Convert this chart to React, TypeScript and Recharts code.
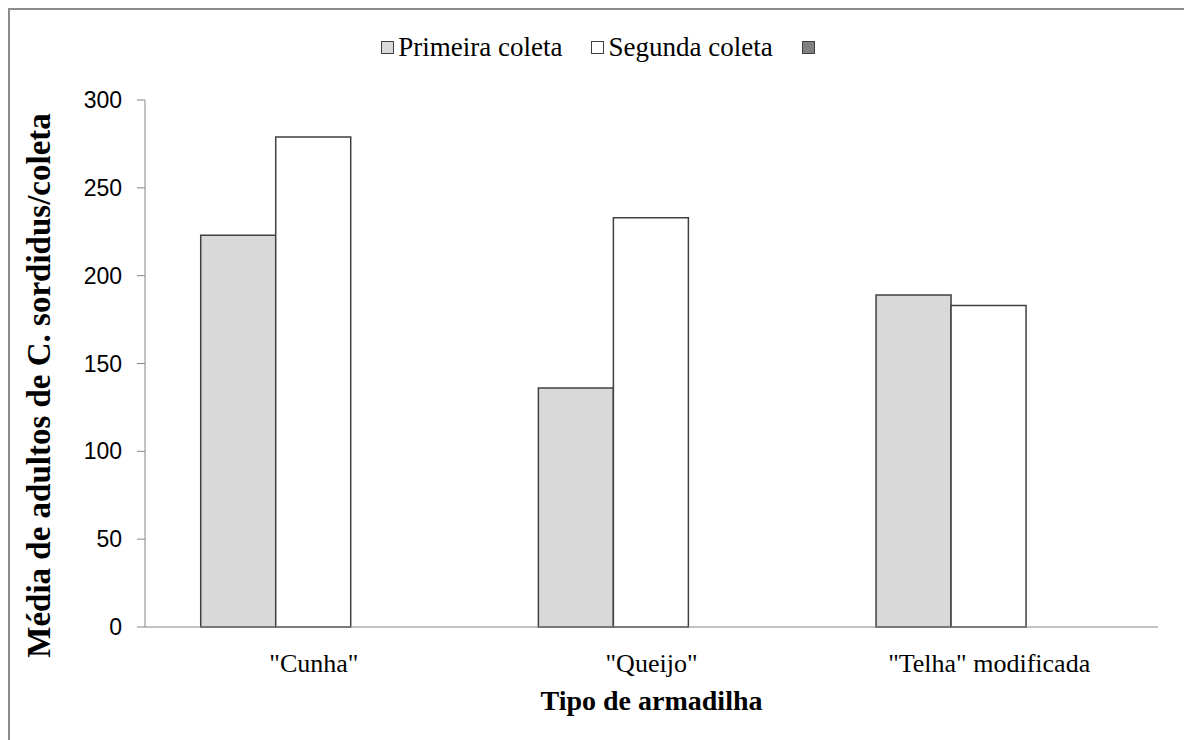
import { BarChart, Bar, XAxis, YAxis, Legend } from 'recharts';

const categories = ['"Cunha"', '"Queijo"', '"Telha" modificada'];
const primeira = [223, 136, 189];
const segunda = [279, 233, 183];
const terceira: (number | null)[] = [null, null, null];
const yTicks = [0, 50, 100, 150, 200, 250, 300];
const edgeTicks = [0, 1, 2, 3];

const SERIES = [
  { key: 'primeira', name: 'Primeira coleta', fill: '#d9d9d9' },
  { key: 'segunda', name: 'Segunda coleta', fill: '#ffffff' },
  { key: 'terceira', name: '', fill: '#808080' },
];

const data = categories.map((c, i) => ({
  cat: c,
  primeira: primeira[i],
  segunda: segunda[i],
  terceira: terceira[i],
}));

const SERIF = '"Liberation Serif", "Times New Roman", serif';
const SANS = '"Liberation Sans", Arial, sans-serif';
const AXIS = '#868686';
const EDGE = '#404040';

function LegendBox() {
  return (
    <div style={{ height: 30, display: 'flex', justifyContent: 'center', alignItems: 'center', fontFamily: SERIF, fontSize: 27, color: '#000', paddingLeft: 6 }}>
      {SERIES.map((s, i) => (
        <div key={s.key} style={{ display: 'flex', alignItems: 'center', marginLeft: i === 0 ? 0 : 29 }}>
          <span style={{ width: 11, height: 11, background: s.fill, border: `1px solid ${EDGE}`, marginRight: 4, display: 'inline-block' }} />
          {s.name && <span>{s.name}</span>}
        </div>
      ))}
    </div>
  );
}

export default function App() {
  return (
    <div style={{ position: 'fixed', left: 8, top: 8, width: 1176, height: 732, overflow: 'hidden', boxSizing: 'border-box', borderLeft: '2px solid #8c8c8c', borderTop: '2px solid #8c8c8c', background: '#fff' }}>
      <BarChart
        width={1174}
        height={730}
        data={data}
        margin={{ top: 60, right: 26, left: 0, bottom: 73 }}
        barCategoryGap="16.5%"
        barGap={0}
      >
        <Legend verticalAlign="top" content={() => <LegendBox />} wrapperStyle={{ top: 22, left: 0, width: 1174 }} />
        <XAxis
          xAxisId="edges"
          type="number"
          domain={[0, 3]}
          allowDataOverflow
          ticks={edgeTicks}
          tick={false}
          axisLine={false}
          tickLine={{ stroke: AXIS }}
          tickSize={8}
          height={0}
        />
        <XAxis
          dataKey="cat"
          height={40}
          tickLine={false}
          tickSize={0}
          tickMargin={27}
          axisLine={{ stroke: AXIS }}
          tick={{ fontFamily: SERIF, fontSize: 26, fill: '#000' }}
          label={{ value: 'Tipo de armadilha', position: 'bottom', offset: 23, style: { fontFamily: SERIF, fontSize: 28, fontWeight: 'bold', fill: '#000' } }}
        />
        <YAxis
          width={135}
          domain={[0, 300]}
          ticks={yTicks}
          interval={0}
          tickSize={8}
          tickMargin={15}
          axisLine={{ stroke: AXIS }}
          tickLine={{ stroke: AXIS }}
          tick={{ fontFamily: SANS, fontSize: 23, fill: '#000' }}
          label={{ value: 'Média de adultos de C. sordidus/coleta', angle: -90, position: 'center', dx: -39, dy: 22, style: { fontFamily: SERIF, fontSize: 33, fontWeight: 'bold', fill: '#000' } }}
        />
        {SERIES.map((s) => (
          <Bar key={s.key} dataKey={s.key} name={s.name} fill={s.fill} stroke={EDGE} strokeWidth={1.5} isAnimationActive={false} />
        ))}
      </BarChart>
    </div>
  );
}
